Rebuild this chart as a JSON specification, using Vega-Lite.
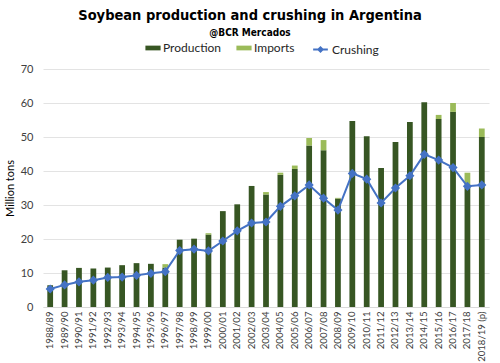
{
  "$schema": "https://vega.github.io/schema/vega-lite/v6.json",
  "autosize": {"type": "none"},
  "width": 446,
  "height": 238,
  "padding": {"left": 43, "top": 69, "right": 11, "bottom": 56},
  "background": "white",
  "title": {
    "text": "Soybean production and crushing in Argentina",
    "subtitle": "@BCR Mercados",
    "anchor": "middle",
    "frame": "group",
    "dx": -16,
    "offset": 3,
    "font": "DejaVu Sans Condensed",
    "fontSize": 14.5,
    "fontWeight": "bold",
    "color": "#000000",
    "subtitleFont": "DejaVu Sans Condensed",
    "subtitleFontSize": 10,
    "subtitleFontWeight": "bold",
    "subtitleColor": "#000000",
    "subtitlePadding": 5
  },
  "data": {
    "values": [
      {"season": "1988/89", "Production": 6.4, "Imports": 0, "Crushing": 5.3},
      {"season": "1989/90", "Production": 10.8, "Imports": 0, "Crushing": 6.5},
      {"season": "1990/91", "Production": 11.5, "Imports": 0, "Crushing": 7.4},
      {"season": "1991/92", "Production": 11.3, "Imports": 0, "Crushing": 7.9},
      {"season": "1992/93", "Production": 11.6, "Imports": 0, "Crushing": 8.7},
      {"season": "1993/94", "Production": 12.3, "Imports": 0, "Crushing": 8.8},
      {"season": "1994/95", "Production": 12.9, "Imports": 0, "Crushing": 9.3},
      {"season": "1995/96", "Production": 12.7, "Imports": 0, "Crushing": 9.9},
      {"season": "1996/97", "Production": 11.6, "Imports": 1.0, "Crushing": 10.4},
      {"season": "1997/98", "Production": 19.8, "Imports": 0, "Crushing": 16.6},
      {"season": "1998/99", "Production": 20.1, "Imports": 0, "Crushing": 17.0},
      {"season": "1999/00", "Production": 21.3, "Imports": 0.4, "Crushing": 16.5},
      {"season": "2000/01", "Production": 28.2, "Imports": 0, "Crushing": 19.4},
      {"season": "2001/02", "Production": 30.2, "Imports": 0, "Crushing": 22.4},
      {"season": "2002/03", "Production": 35.6, "Imports": 0, "Crushing": 24.7},
      {"season": "2003/04", "Production": 33.1, "Imports": 0.7, "Crushing": 25.0},
      {"season": "2004/05", "Production": 38.9, "Imports": 0.6, "Crushing": 29.6},
      {"season": "2005/06", "Production": 40.6, "Imports": 1.0, "Crushing": 32.7},
      {"season": "2006/07", "Production": 47.5, "Imports": 2.2, "Crushing": 35.9},
      {"season": "2007/08", "Production": 46.1, "Imports": 3.0, "Crushing": 32.0},
      {"season": "2008/09", "Production": 31.9, "Imports": 0.2, "Crushing": 28.5},
      {"season": "2009/10", "Production": 54.7, "Imports": 0, "Crushing": 39.3},
      {"season": "2010/11", "Production": 50.2, "Imports": 0, "Crushing": 37.6},
      {"season": "2011/12", "Production": 40.9, "Imports": 0, "Crushing": 30.6},
      {"season": "2012/13", "Production": 48.5, "Imports": 0, "Crushing": 35.0},
      {"season": "2013/14", "Production": 54.4, "Imports": 0, "Crushing": 38.6},
      {"season": "2014/15", "Production": 60.2, "Imports": 0, "Crushing": 44.9},
      {"season": "2015/16", "Production": 55.3, "Imports": 1.2, "Crushing": 43.2},
      {"season": "2016/17", "Production": 57.4, "Imports": 2.6, "Crushing": 41.0},
      {"season": "2017/18", "Production": 35.1, "Imports": 4.4, "Crushing": 35.5},
      {"season": "2018/19 (p)", "Production": 50.0, "Imports": 2.5, "Crushing": 35.9}
    ]
  },
  "encoding": {
    "x": {
      "field": "season",
      "type": "ordinal",
      "sort": null,
      "scale": {"paddingInner": 0.6, "paddingOuter": 0.3},
      "axis": {
        "title": null,
        "labelAngle": -90,
        "labelFont": "Lato",
        "labelFontSize": 9.6,
        "labelColor": "#404040",
        "labelPadding": 4,
        "ticks": false,
        "domainColor": "#d9d9d9",
        "domainWidth": 1,
        "grid": false
      }
    }
  },
  "layer": [
    {
      "transform": [{"fold": ["Production", "Imports"], "as": ["series", "value"]}],
      "mark": {"type": "bar"},
      "encoding": {
        "y": {
          "field": "value",
          "type": "quantitative",
          "stack": "zero",
          "scale": {"domain": [0, 70]},
          "axis": {
            "title": "Million tons",
            "titleFont": "Lato",
            "titleFontSize": 11,
            "titleFontWeight": "normal",
            "titleColor": "#000000",
            "titlePadding": 5,
            "values": [0, 10, 20, 30, 40, 50, 60, 70],
            "labelFont": "Lato",
            "labelFontSize": 11,
            "labelColor": "#404040",
            "labelPadding": 10,
            "labelOverlap": false,
            "ticks": false,
            "domain": false,
            "grid": true,
            "gridColor": "#e3e3e3",
            "gridWidth": 1.2
          }
        },
        "color": {
          "field": "series",
          "type": "nominal",
          "scale": {"domain": ["Production", "Imports"], "range": ["#375623", "#9bbb59"]},
          "legend": {
            "title": null,
            "orient": "none",
            "direction": "horizontal",
            "legendX": 104,
            "legendY": -27,
            "symbolType": "M-1.6,-0.5H1.6V0.5H-1.6Z",
            "symbolSize": 90,
            "symbolStrokeWidth": 0,
            "labelFont": "Lato",
            "labelFontSize": 12,
            "labelColor": "#262626",
            "columnPadding": 14,
            "symbolOffset": 0
          }
        },
        "order": {"field": "series", "sort": "descending"}
      }
    },
    {
      "mark": {"type": "line", "strokeWidth": 2, "point": {"shape": "diamond", "size": 40, "filled": true}},
      "encoding": {
        "y": {
          "field": "Crushing",
          "type": "quantitative",
          "scale": {"domain": [0, 70]},
          "axis": {
            "title": "Million tons",
            "titleFont": "Lato",
            "titleFontSize": 11,
            "titleFontWeight": "normal",
            "titleColor": "#000000",
            "titlePadding": 5,
            "values": [0, 10, 20, 30, 40, 50, 60, 70],
            "labelFont": "Lato",
            "labelFontSize": 11,
            "labelColor": "#404040",
            "labelPadding": 10,
            "labelOverlap": false,
            "ticks": false,
            "domain": false,
            "grid": true,
            "gridColor": "#e3e3e3",
            "gridWidth": 1.2
          }
        },
        "stroke": {
          "datum": "Crushing",
          "type": "nominal",
          "scale": {"range": ["#4472c4"]},
          "legend": {
            "title": null,
            "orient": "none",
            "legendX": 270,
            "legendY": -27,
            "symbolType": "M-1.2,0H1.2M-0.35,0L0,-0.35L0.35,0L0,0.35Z",
            "symbolSize": 150,
            "symbolStrokeWidth": 2,
            "symbolFillColor": "#4472c4",
            "labelFont": "Lato",
            "labelFontSize": 12,
            "labelColor": "#262626"
          }
        },
        "color": {"value": "#4472c4"}
      }
    }
  ],
  "config": {
    "view": {"stroke": null}
  }
}
